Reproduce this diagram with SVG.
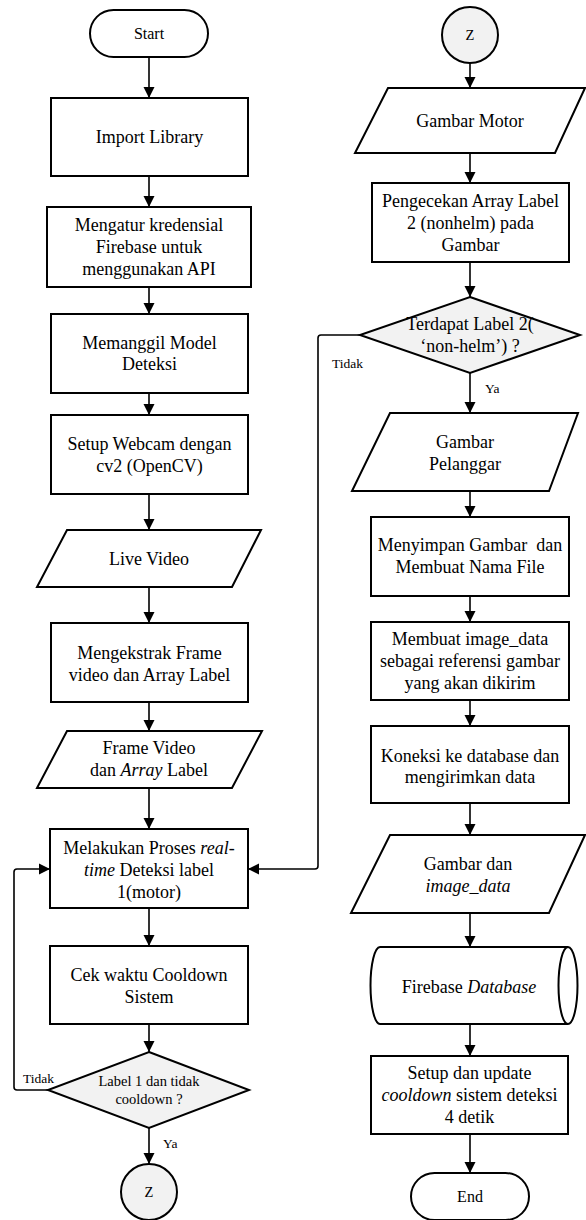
<svg xmlns="http://www.w3.org/2000/svg" width="586" height="1220" viewBox="0 0 586 1220">
  <style>
    .shape { fill: #ffffff; stroke: #000000; stroke-width: 2; }
    .grey { fill: #f2f2f2; stroke: #000000; stroke-width: 2; }
    .conn { fill: none; stroke: #000000; stroke-width: 1.6; }
    text { font-family: "Liberation Serif", "Times New Roman", serif; fill: #000000; text-anchor: middle; }
    .t18 { font-size: 18px; }
    .t16 { font-size: 16px; }
    .t14 { font-size: 14.5px; }
    .lbl { font-size: 13.5px; text-anchor: start; }
    .it { font-style: italic; }
  </style>
  <defs>
    <marker id="arrow" markerUnits="userSpaceOnUse" markerWidth="12" markerHeight="12" refX="11" refY="6" orient="auto">
      <path d="M0,0.5 L11,6 L0,11.5 Z" fill="#000000"/>
    </marker>
  </defs>
  <rect width="586" height="1220" fill="#ffffff"/>

  <!-- connectors -->
  <g id="connectors" class="conn" marker-end="url(#arrow)">
    <line x1="149" y1="57" x2="149" y2="98"/>
    <line x1="149" y1="176" x2="149" y2="207"/>
    <line x1="149" y1="287" x2="149" y2="314"/>
    <line x1="149" y1="393" x2="149" y2="415"/>
    <line x1="149" y1="494" x2="149" y2="530"/>
    <line x1="149" y1="587" x2="149" y2="623"/>
    <line x1="149" y1="702" x2="149" y2="731"/>
    <line x1="149" y1="788" x2="149" y2="829"/>
    <line x1="149" y1="908" x2="149" y2="946"/>
    <line x1="149" y1="1024" x2="149" y2="1052"/>
    <line x1="149" y1="1128" x2="149" y2="1164"/>
    <path d="M48,1090 L17,1090 Q14,1090 14,1087 L14,872 Q14,869 17,869 L50,869"/>

    <line x1="470" y1="63" x2="470" y2="88"/>
    <line x1="470" y1="153" x2="470" y2="183"/>
    <line x1="470" y1="262" x2="470" y2="297"/>
    <line x1="470" y1="373" x2="470" y2="413"/>
    <line x1="470" y1="491" x2="470" y2="517"/>
    <line x1="470" y1="596" x2="470" y2="622"/>
    <line x1="470" y1="700" x2="470" y2="726"/>
    <line x1="470" y1="803" x2="470" y2="835"/>
    <line x1="470" y1="913" x2="470" y2="947"/>
    <line x1="470" y1="1024" x2="470" y2="1056"/>
    <line x1="470" y1="1134" x2="470" y2="1173"/>
    <path d="M360,335 L321,335 Q318,335 318,338 L318,866 Q318,869 315,869 L248,869"/>
  </g>

  <!-- left column -->
  <g id="start">
    <rect class="shape" x="90" y="10" width="118" height="47" rx="23.5"/>
    <text class="t16" x="149" y="39">Start</text>
  </g>
  <g id="import-library">
    <rect class="shape" x="51" y="98" width="197" height="78"/>
    <text class="t18" x="149.5" y="143">Import Library</text>
  </g>
  <g id="firebase-credentials">
    <rect class="shape" x="47" y="207" width="204" height="80"/>
    <text class="t18" x="149" y="231">Mengatur kredensial</text>
    <text class="t18" x="149" y="253">Firebase untuk</text>
    <text class="t18" x="149" y="275">menggunakan API</text>
  </g>
  <g id="load-model">
    <rect class="shape" x="51" y="314" width="197" height="79"/>
    <text class="t18" x="149.5" y="349">Memanggil Model</text>
    <text class="t18" x="149.5" y="370">Deteksi</text>
  </g>
  <g id="setup-webcam">
    <rect class="shape" x="51" y="415" width="197" height="79"/>
    <text class="t18" x="149.5" y="450">Setup Webcam dengan</text>
    <text class="t18" x="149.5" y="472">cv2 (OpenCV)</text>
  </g>
  <g id="live-video">
    <polygon class="shape" points="67,530 261,530 232,587 37,587"/>
    <text class="t18" x="149" y="565">Live Video</text>
  </g>
  <g id="extract-frame">
    <rect class="shape" x="51" y="623" width="197" height="79"/>
    <text class="t18" x="149.5" y="659">Mengekstrak Frame</text>
    <text class="t18" x="149.5" y="681">video dan Array Label</text>
  </g>
  <g id="frame-video">
    <polygon class="shape" points="67,731 262,731 232,788 37,788"/>
    <text class="t18" x="149" y="754">Frame Video</text>
    <text class="t18" x="149" y="776">dan <tspan class="it">Array</tspan> Label</text>
  </g>
  <g id="realtime-detection">
    <rect class="shape" x="50" y="829" width="198" height="79"/>
    <text class="t18" x="149" y="854">Melakukan Proses <tspan class="it">real-</tspan></text>
    <text class="t18" x="149" y="876"><tspan class="it">time</tspan> Deteksi label</text>
    <text class="t18" x="149" y="898">1(motor)</text>
  </g>
  <g id="check-cooldown">
    <rect class="shape" x="50" y="946" width="198" height="78"/>
    <text class="t18" x="149" y="981">Cek waktu Cooldown</text>
    <text class="t18" x="149" y="1003">Sistem</text>
  </g>
  <g id="decision-motor">
    <polygon class="grey" points="149,1052 249,1090 149,1128 48,1090"/>
    <text class="t14" x="149" y="1086">Label 1 dan tidak</text>
    <text class="t14" x="149" y="1104">cooldown ?</text>
    <text class="lbl" x="23" y="1083">Tidak</text>
    <text class="lbl" x="163" y="1148">Ya</text>
  </g>
  <g id="connector-z-out">
    <circle class="grey" cx="149" cy="1192" r="28"/>
    <text class="t14" x="149" y="1197">Z</text>
  </g>

  <!-- right column -->
  <g id="connector-z-in">
    <circle class="grey" cx="470" cy="35" r="28"/>
    <text class="t14" x="470" y="40">Z</text>
  </g>
  <g id="motor-image">
    <polygon class="shape" points="388,88 585,88 555,153 355,153"/>
    <text class="t18" x="470" y="127">Gambar Motor</text>
  </g>
  <g id="check-label-2">
    <rect class="shape" x="372" y="183" width="197" height="79"/>
    <text class="t18" x="470.5" y="207">Pengecekan Array Label</text>
    <text class="t18" x="470.5" y="229">2 (nonhelm) pada</text>
    <text class="t18" x="470.5" y="251">Gambar</text>
  </g>
  <g id="decision-helmet">
    <polygon class="grey" points="470,297 580,335 470,373 360,335"/>
    <text class="t18" x="470" y="330">Terdapat Label 2(</text>
    <text class="t18" x="470" y="352">‘non-helm’) ?</text>
    <text class="lbl" x="332" y="368">Tidak</text>
    <text class="lbl" x="485" y="393">Ya</text>
  </g>
  <g id="violator-image">
    <polygon class="shape" points="390,413 578,413 549,491 352,491"/>
    <text class="t18" x="465" y="448">Gambar</text>
    <text class="t18" x="465" y="470">Pelanggar</text>
  </g>
  <g id="save-image">
    <rect class="shape" x="371" y="517" width="198" height="79"/>
    <text class="t18" x="470" y="551">Menyimpan Gambar&#160; dan</text>
    <text class="t18" x="470" y="573">Membuat Nama File</text>
  </g>
  <g id="image-data">
    <rect class="shape" x="371" y="622" width="198" height="78"/>
    <text class="t18" x="470" y="645">Membuat image_data</text>
    <text class="t18" x="470" y="667">sebagai referensi gambar</text>
    <text class="t18" x="470" y="689">yang akan dikirim</text>
  </g>
  <g id="db-connect">
    <rect class="shape" x="371" y="726" width="198" height="77"/>
    <text class="t18" x="470" y="762">Koneksi ke database dan</text>
    <text class="t18" x="470" y="783">mengirimkan data</text>
  </g>
  <g id="image-and-data">
    <polygon class="shape" points="390,835 585,835 549,913 351,913"/>
    <text class="t18" x="468" y="870">Gambar dan</text>
    <text class="t18 it" x="468" y="892">image_data</text>
  </g>
  <g id="firebase-database">
    <path class="shape" d="M380,947 L568,947 A9.5,38.5 0 0 1 568,1024 L380,1024 A9.5,38.5 0 0 1 380,947 Z"/>
    <path class="shape" d="M568,947 A9.5,38.5 0 0 0 568,1024" fill="none"/>
    <text class="t18" x="469" y="993">Firebase <tspan class="it">Database</tspan></text>
  </g>
  <g id="update-cooldown">
    <rect class="shape" x="371" y="1056" width="197" height="78"/>
    <text class="t18" x="469.5" y="1079">Setup dan update</text>
    <text class="t18" x="469.5" y="1101"><tspan class="it">cooldown</tspan> sistem deteksi</text>
    <text class="t18" x="469.5" y="1123">4 detik</text>
  </g>
  <g id="end">
    <rect class="shape" x="411" y="1173" width="118" height="47" rx="23.5"/>
    <text class="t16" x="470" y="1202">End</text>
  </g>
</svg>
